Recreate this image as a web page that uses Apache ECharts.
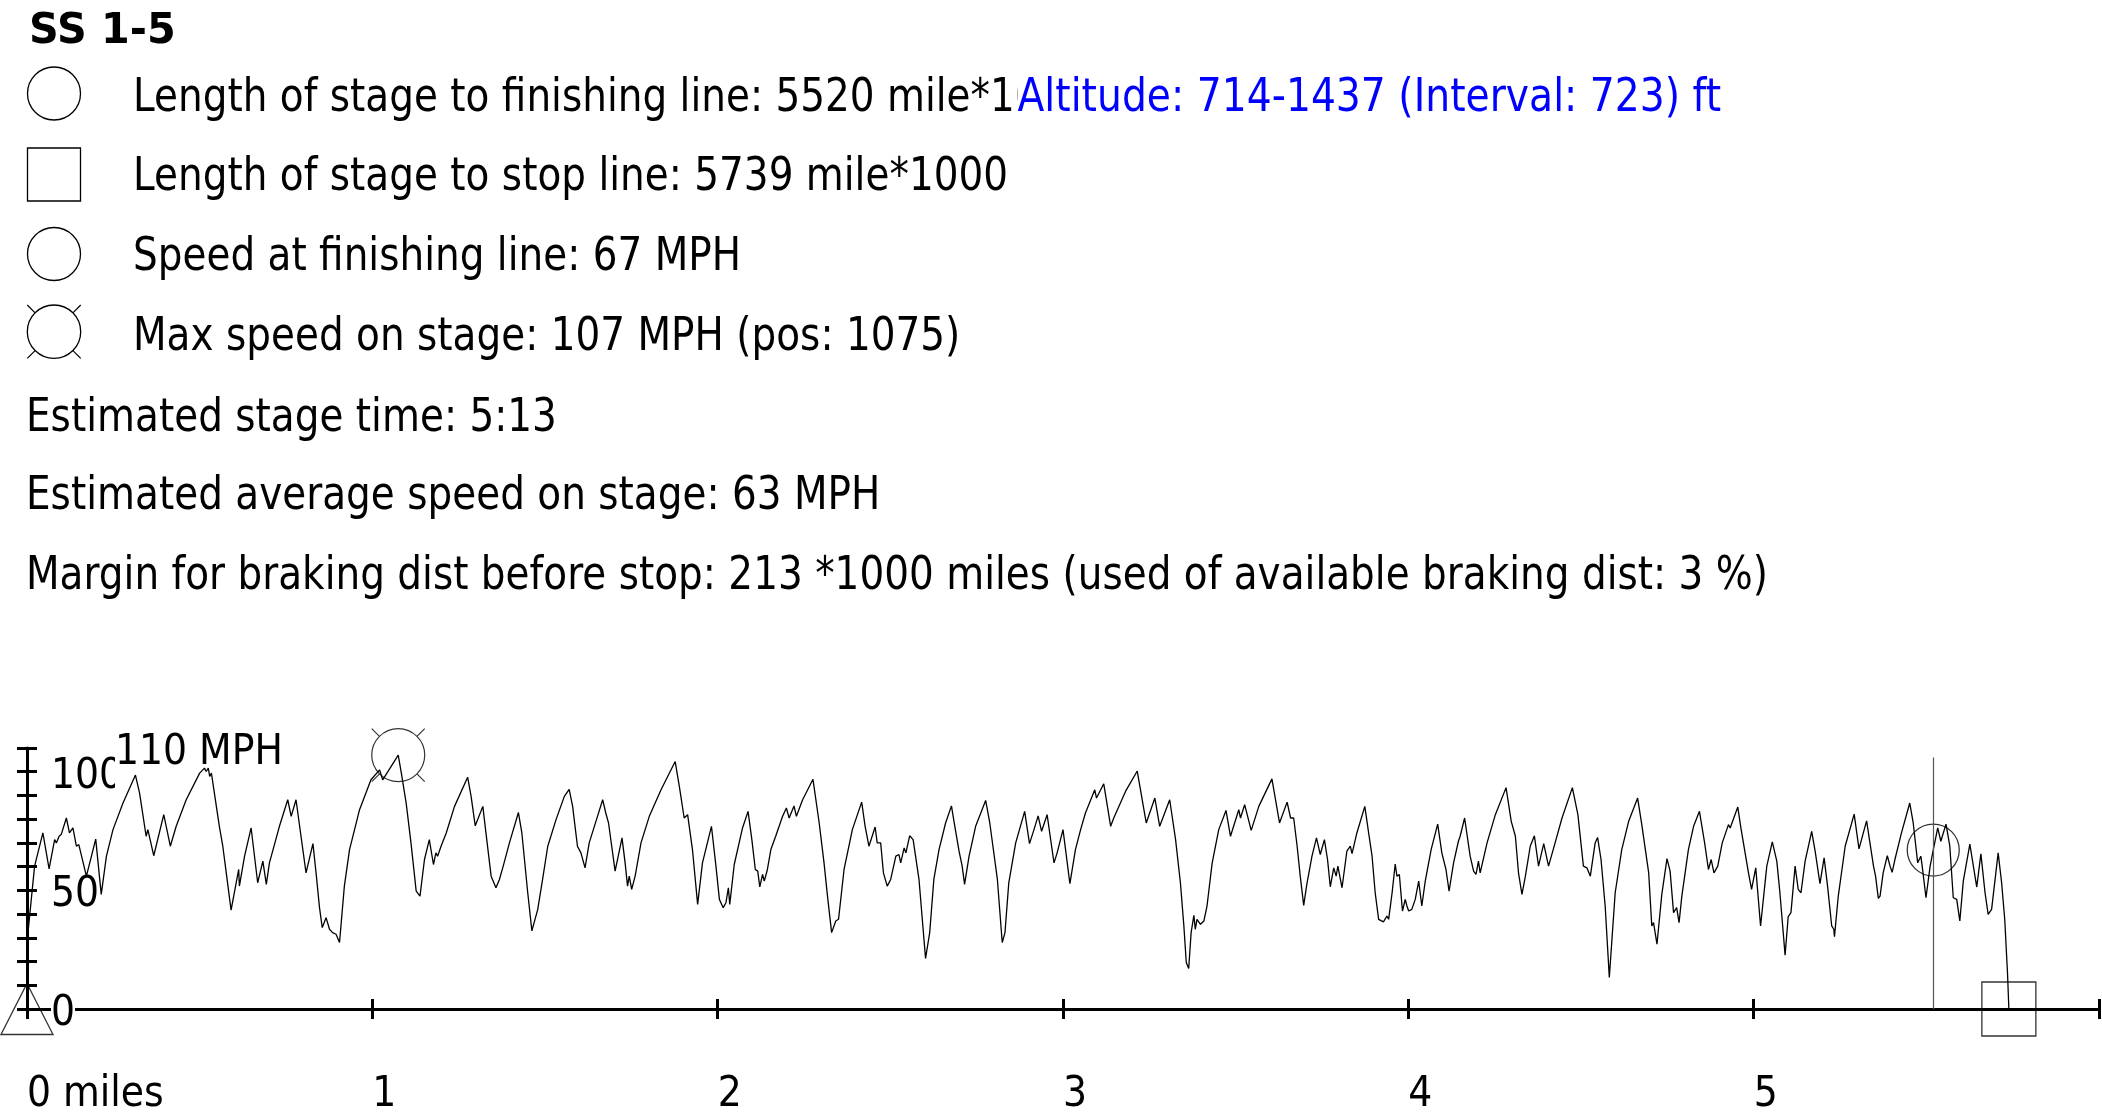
<!DOCTYPE html>
<html><head><meta charset="utf-8">
<script src="https://cdn.jsdelivr.net/npm/echarts@6/dist/echarts.min.js"></script>
<style>html,body{margin:0;padding:0;background:#fff}#c{width:2102px;height:1116px}</style>
</head><body><div id="c"></div>
<script>
// ---------- texts ----------
const titleText = 'SS 1-5';
const legendLines = [
  'Length of stage to finishing line: 5520 mile*1000',
  'Length of stage to stop line: 5739 mile*1000',
  'Speed at finishing line: 67 MPH',
  'Max speed on stage: 107 MPH (pos: 1075)'
];
const infoLines = [
  'Estimated stage time: 5:13',
  'Estimated average speed on stage: 63 MPH',
  'Margin for braking dist before stop: 213 *1000 miles (used of available braking dist: 3 %)'
];
const altitudeText = 'Altitude: 714-1437 (Interval: 723) ft';
const xTickLabels = ['0 miles', '1', '2', '3', '4', '5', ''];
const yTickLabels = {0: '0', 50: '50', 100: '100'};
const yMaxLabel = '110 MPH';

// ---------- key positions (miles) and speeds (MPH) ----------
const startPos = 0, finishPos = 5.520, stopPos = 5.739;
const finishSpeed = 67, maxPos = 1.075, maxSpeed = 107, finishLineTop = 106;

// ---------- speed profile [miles, MPH] ----------
const profileMile0 = [[0.000,28.0],[0.022,60.2],[0.046,74.2],[0.064,59.1],[0.080,71.4],[0.085,70.0],[0.093,72.8],[0.099,73.5],[0.114,80.5],[0.123,74.2],[0.133,76.3],[0.143,68.6],[0.150,69.3],[0.172,56.0],[0.199,71.6],[0.215,48.3],[0.230,64.4],[0.249,75.6],[0.278,86.8],[0.314,98.6],[0.326,91.0],[0.345,72.8],[0.350,75.6],[0.367,64.6],[0.396,81.9],[0.415,68.6],[0.432,77.0],[0.461,88.2],[0.500,99.4],[0.514,101.5],[0.519,100.1],[0.525,101.5],[0.529,98.0],[0.534,99.4],[0.557,77.0],[0.567,68.6],[0.577,57.4],[0.591,41.7],[0.613,58.8],[0.615,51.8],[0.630,64.4],[0.649,76.3],[0.668,53.2],[0.683,62.3],[0.693,52.5],[0.702,61.6],[0.731,77.0],[0.755,88.2],[0.765,81.2],[0.779,88.2],[0.808,57.4],[0.828,69.7],[0.837,57.4],[0.847,42.7],[0.855,34.3],[0.866,38.5],[0.876,33.6],[0.885,32.2],[0.895,31.5],[0.905,28.0],[0.919,51.8],[0.934,67.2],[0.963,84.0],[0.996,96.6]];
const profileMile1 = [[1.021,100.8],[1.025,100.1],[1.030,96.6],[1.075,107.0],[1.084,99.4],[1.098,86.8],[1.112,69.9],[1.127,49.7],[1.131,49.0],[1.138,47.6],[1.151,63.0],[1.165,71.4],[1.177,60.9],[1.184,65.8],[1.189,64.4],[1.199,68.6],[1.214,74.2],[1.238,85.4],[1.276,97.7],[1.286,89.6],[1.298,77.2],[1.320,85.4],[1.329,74.2],[1.344,56.0],[1.358,51.1],[1.368,54.6],[1.379,60.2],[1.397,70.0],[1.423,82.8],[1.433,74.2],[1.450,49.0],[1.462,32.9],[1.479,42.0],[1.493,54.6],[1.508,68.6],[1.532,79.8],[1.556,89.6],[1.570,92.6],[1.580,85.4],[1.594,68.6],[1.604,65.8],[1.616,59.5],[1.628,70.0],[1.652,81.2],[1.667,88.2],[1.676,82.6],[1.684,78.4],[1.703,58.1],[1.723,72.1],[1.732,61.6],[1.739,51.8],[1.744,56.0],[1.751,50.4],[1.761,56.0],[1.778,70.0],[1.802,81.2],[1.836,92.4],[1.877,104.3],[1.889,93.8],[1.903,80.5],[1.913,81.9],[1.927,67.2],[1.942,44.1],[1.956,61.6],[1.982,77.0],[1.995,60.2]];
const profileMile2 = [[2.005,46.2],[2.016,42.7],[2.024,44.8],[2.031,51.1],[2.035,44.1],[2.048,60.9],[2.072,76.3],[2.088,83.3],[2.099,71.4],[2.109,58.8],[2.116,58.1],[2.122,51.5],[2.130,56.7],[2.135,53.9],[2.144,58.8],[2.154,67.2],[2.168,72.8],[2.188,81.2],[2.199,84.7],[2.207,80.5],[2.221,85.6],[2.228,81.2],[2.246,88.2],[2.276,96.8],[2.294,78.4],[2.308,61.6],[2.318,47.6],[2.330,32.2],[2.342,37.1],[2.350,37.8],[2.366,58.8],[2.390,75.6],[2.417,87.2],[2.427,77.0],[2.438,68.6],[2.456,76.7],[2.462,70.0],[2.472,70.0],[2.480,57.4],[2.491,51.8],[2.501,54.6],[2.516,64.4],[2.525,65.1],[2.530,61.6],[2.540,67.9],[2.545,65.8],[2.556,73.0],[2.566,71.4],[2.583,54.6],[2.602,21.3],[2.614,32.2],[2.626,54.6],[2.641,67.2],[2.660,78.4],[2.677,85.6],[2.685,78.4],[2.699,66.5],[2.708,60.2],[2.715,52.5],[2.728,64.4],[2.747,77.0],[2.776,87.9],[2.788,78.4],[2.810,54.6],[2.824,28.0],[2.832,32.2],[2.843,53.2],[2.863,70.0],[2.889,83.3],[2.903,69.7],[2.916,75.6],[2.928,81.4],[2.938,74.9],[2.954,81.9],[2.967,68.6],[2.974,61.6],[2.983,65.8]];
const profileMile3 = [[3.000,75.6],[3.020,52.8],[3.036,67.2],[3.051,75.6],[3.065,82.6],[3.092,92.4],[3.097,88.9],[3.118,94.9],[3.138,77.0],[3.147,80.5],[3.181,91.7],[3.215,100.3],[3.241,78.4],[3.266,88.9],[3.280,77.0],[3.309,88.2],[3.326,71.4],[3.340,53.2],[3.350,35.0],[3.357,19.6],[3.364,17.1],[3.371,32.2],[3.379,39.5],[3.383,33.6],[3.388,37.8],[3.398,35.7],[3.408,37.1],[3.417,43.4],[3.432,61.6],[3.451,75.6],[3.472,83.7],[3.485,72.8],[3.509,84.0],[3.514,80.5],[3.526,86.1],[3.545,75.3],[3.567,85.4],[3.605,97.0],[3.627,78.4],[3.649,87.2],[3.659,80.5],[3.668,80.5],[3.678,68.6],[3.687,56.0],[3.697,43.7],[3.706,52.5],[3.721,64.4],[3.734,72.1],[3.745,65.1],[3.757,71.4],[3.766,63.0],[3.774,51.5],[3.784,59.5],[3.791,56.0],[3.796,60.2],[3.808,51.1],[3.822,66.5],[3.832,68.6],[3.837,65.5],[3.851,74.2],[3.874,85.4],[3.885,74.2],[3.895,64.4],[3.904,49.0],[3.914,37.8],[3.928,36.7],[3.938,39.2],[3.943,37.8],[3.953,49.0],[3.962,61.1],[3.967,56.0],[3.974,56.7],[3.983,41.3],[3.991,46.2],[3.996,43.4]];
const profileMile4 = [[4.001,41.3],[4.010,42.0],[4.020,46.2],[4.030,53.9],[4.039,43.4],[4.049,53.9],[4.066,67.2],[4.085,77.9],[4.097,65.8],[4.109,58.8],[4.118,49.7],[4.131,61.6],[4.145,70.7],[4.150,72.8],[4.163,80.5],[4.179,64.4],[4.189,58.1],[4.196,56.7],[4.203,62.3],[4.208,57.4],[4.228,70.0],[4.252,81.9],[4.283,93.3],[4.298,79.1],[4.310,72.8],[4.319,57.4],[4.329,48.3],[4.339,56.0],[4.353,68.6],[4.365,73.0],[4.377,60.2],[4.392,69.7],[4.406,60.2],[4.425,70.0],[4.445,80.5],[4.475,93.3],[4.491,81.9],[4.507,60.2],[4.517,59.5],[4.527,56.0],[4.541,70.0],[4.548,72.3],[4.558,63.0],[4.570,43.4],[4.582,13.3],[4.599,49.0],[4.618,67.2],[4.638,79.1],[4.664,88.9],[4.676,77.7],[4.696,57.4],[4.705,35.0],[4.710,36.4],[4.720,27.3],[4.734,48.3],[4.749,63.4],[4.758,58.1],[4.768,40.6],[4.777,42.7],[4.784,36.4],[4.792,47.6],[4.811,67.2],[4.826,77.0],[4.843,83.3],[4.858,70.0],[4.869,58.8],[4.877,63.0],[4.885,57.4],[4.896,60.2],[4.909,70.0],[4.927,77.7],[4.932,76.3],[4.954,85.1],[4.963,76.3],[4.985,57.4],[4.994,50.4]];
const profileMile5 = [[5.006,59.5],[5.020,35.0],[5.038,60.2],[5.054,70.4],[5.067,62.3],[5.076,49.0],[5.091,22.7],[5.100,38.9],[5.108,40.6],[5.120,60.2],[5.129,50.4],[5.137,49.0],[5.149,62.3],[5.168,74.9],[5.178,66.5],[5.192,52.8],[5.204,63.7],[5.214,51.8],[5.226,35.0],[5.232,33.6],[5.234,30.5],[5.245,47.6],[5.265,68.6],[5.291,82.1],[5.305,67.5],[5.327,79.3],[5.347,60.2],[5.353,56.0],[5.361,46.6],[5.366,47.6],[5.375,57.4],[5.387,64.6],[5.395,60.2],[5.401,57.6],[5.409,63.0],[5.428,74.2],[5.452,86.8],[5.462,78.4],[5.475,61.6],[5.484,64.4],[5.488,60.2],[5.499,46.9],[5.511,60.2],[5.520,67.0],[5.533,76.3],[5.542,70.7],[5.557,77.9],[5.568,68.6],[5.578,46.9],[5.588,46.2],[5.597,37.1],[5.607,53.9],[5.626,69.5],[5.646,51.4],[5.658,65.4],[5.670,49.0],[5.679,39.9],[5.689,42.0],[5.708,65.8],[5.718,53.2],[5.727,37.8],[5.735,15.4],[5.739,0.0]];

const profile = [].concat(profileMile0, profileMile1, profileMile2, profileMile3, profileMile4, profileMile5);

// ---------- styling ----------
const TXT_FONT = '"DejaVu Sans", Verdana, sans-serif';
const AX_FONT = '"DejaVu Sans Condensed", "Liberation Sans", Arial, sans-serif';
const HDR_SIZE = 45.7, HDR_SCALE = 0.853;
const lineY = [98.8, 178.5, 258.3, 338, 419, 497.5, 577];

const maxSymbol = 'path://M0,1 A1,1 0 1,1 2,1 A1,1 0 1,1 0,1 Z M0,0 L0.2929,0.2929 M2,0 L1.7071,0.2929 M0,2 L0.2929,1.7071 M2,2 L1.7071,1.7071';

const graphic = [];
graphic.push({type: 'text', x: 29, y: 32, scaleX: 0.95, silent: true,
  style: {text: titleText, fontFamily: TXT_FONT, fontWeight: 'bold', fontSize: 43.5, fill: '#000', align: 'left', verticalAlign: 'middle'}});
legendLines.forEach((t, i) => graphic.push({type: 'text', x: 133, y: lineY[i], scaleX: HDR_SCALE, silent: true, z: 1,
  style: {text: t, fontFamily: TXT_FONT, fontSize: HDR_SIZE, fill: '#000', align: 'left', verticalAlign: 'middle'}}));
infoLines.forEach((t, i) => graphic.push({type: 'text', x: 26, y: lineY[i + 4], scaleX: HDR_SCALE, silent: true,
  style: {text: t, fontFamily: TXT_FONT, fontSize: HDR_SIZE, fill: '#000', align: 'left', verticalAlign: 'middle'}}));
graphic.push({type: 'text', x: 1017.5, y: lineY[0], scaleX: HDR_SCALE * 1.008, silent: true, z: 5,
  style: {text: altitudeText, fontFamily: TXT_FONT, fontSize: HDR_SIZE, fill: '#0000ff', backgroundColor: '#fff', align: 'left', verticalAlign: 'middle'}});
// legend icons
const iconStyle = {fill: 'none', stroke: '#000', lineWidth: 1.3};
graphic.push({type: 'circle', silent: true, shape: {cx: 54, cy: 93.5, r: 26.5}, style: iconStyle});
graphic.push({type: 'rect', silent: true, shape: {x: 27.5, y: 148, width: 53, height: 53}, style: iconStyle});
graphic.push({type: 'circle', silent: true, shape: {cx: 54, cy: 254, r: 26.5}, style: iconStyle});
graphic.push({type: 'circle', silent: true, shape: {cx: 54, cy: 331.7, r: 26.7}, style: iconStyle});
[[-1,-1],[1,-1],[-1,1],[1,1]].forEach(([sx, sy]) => graphic.push({type: 'line', silent: true,
  shape: {x1: 54 + sx * 26.7, y1: 331.7 + sy * 26.7, x2: 54 + sx * 18.9, y2: 331.7 + sy * 18.9}, style: {stroke: '#000', lineWidth: 1.2}}));

const hollow = {color: 'rgba(0,0,0,0)', borderColor: '#000', borderWidth: 1.3};

// y labels: a thin spacer line above the text nudges the glyphs slightly below the tick value
const yLabelRich = {
  s: {fontSize: 1, lineHeight: 10},
  t: {fontSize: 42, lineHeight: 46, fontFamily: AX_FONT, color: '#000'},
  m: {fontSize: 42, lineHeight: 76, fontFamily: AX_FONT, color: '#000'}
};

const option = {
  animation: false,
  backgroundColor: '#fff',
  grid: {left: 27, right: 2, top: 748, bottom: 106, containLabel: false},
  xAxis: [
    {type: 'value', min: 0, max: 6, interval: 1, position: 'bottom',
     axisLine: {show: true, onZero: false, lineStyle: {color: '#000', width: 3}},
     axisTick: {show: true, inside: false, length: 10, lineStyle: {color: '#000', width: 3}},
     axisLabel: {show: true, margin: 65, align: 'left', fontFamily: AX_FONT, fontSize: 42, color: '#000',
                 showMinLabel: true, showMaxLabel: true,
                 formatter: v => xTickLabels[Math.round(v)] || ''},
     splitLine: {show: false}},
    {type: 'value', min: 0, max: 6, interval: 1, position: 'bottom',
     axisLine: {show: false}, axisTick: {show: true, inside: true, length: 10, lineStyle: {color: '#000', width: 3}},
     axisLabel: {show: false}, splitLine: {show: false}}
  ],
  yAxis: [
    {type: 'value', min: 0, max: 110, interval: 10, position: 'left', z: 0,
     axisLine: {show: true, onZero: false, lineStyle: {color: '#000', width: 3}},
     axisTick: {show: true, inside: false, length: 10, lineStyle: {color: '#000', width: 3}},
     axisLabel: {show: true, inside: true, margin: 24, fontFamily: AX_FONT, fontSize: 42, color: '#000',
                 backgroundColor: '#fff', showMinLabel: true, showMaxLabel: true, rich: yLabelRich,
                 formatter: v => { const t = yTickLabels[Math.round(v)]; return t ? '{s| }\n{t|' + t + '}' : ''; }},
     splitLine: {show: false}},
    {type: 'value', min: 0, max: 110, interval: 10, position: 'left', z: 1,
     axisLine: {show: false},
     axisTick: {show: true, inside: true, length: 10, lineStyle: {color: '#000', width: 3}},
     axisLabel: {show: true, inside: true, margin: 88, fontFamily: AX_FONT, fontSize: 42, color: '#000',
                 backgroundColor: '#fff', showMinLabel: true, showMaxLabel: true, rich: yLabelRich,
                 formatter: v => (Math.round(v) === 110 ? '{s| }\n{m|' + yMaxLabel + '}' : '')},
     splitLine: {show: false}}
  ],
  series: [
    {type: 'line', name: 'speed', data: profile, symbol: 'none', showSymbol: false, silent: true, z: 2,
     lineStyle: {color: '#000', width: 1.3},
     markLine: {silent: true, symbol: 'none', animation: false, label: {show: false},
                lineStyle: {color: '#555', width: 1.2, type: 'solid'},
                data: [[{coord: [finishPos, 0]}, {coord: [finishPos, finishLineTop]}]]}},
    {type: 'scatter', name: 'start', data: [[startPos, 0]], symbol: 'triangle', symbolSize: [52, 51],
     itemStyle: hollow, silent: true, clip: false, z: 4},
    {type: 'scatter', name: 'finish', data: [[finishPos, finishSpeed]], symbol: 'circle', symbolSize: 52,
     itemStyle: hollow, silent: true, clip: false, z: 4},
    {type: 'scatter', name: 'stop', data: [[stopPos, 0]], symbol: 'rect', symbolSize: 54,
     itemStyle: hollow, silent: true, clip: false, z: 4},
    {type: 'scatter', name: 'max', data: [[maxPos, maxSpeed]], symbol: maxSymbol, symbolSize: 53,
     itemStyle: {color: 'rgba(0,0,0,0)', borderColor: '#000', borderWidth: 1.2}, silent: true, clip: false, z: 4}
  ],
  graphic: graphic
};

const chart = echarts.init(document.getElementById('c'), null, {renderer: 'canvas'});
chart.setOption(option);
</script>
</body></html>
